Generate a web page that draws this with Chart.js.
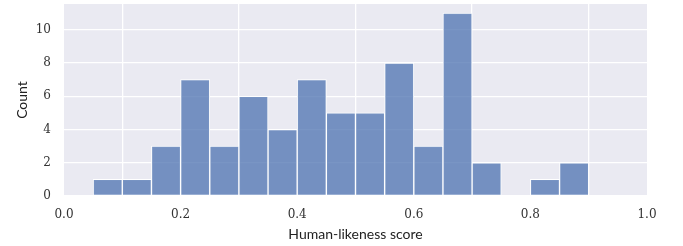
<!DOCTYPE html>
<html><head><meta charset="utf-8">
<script src="https://cdn.jsdelivr.net/npm/chart.js@4/dist/chart.umd.min.js"></script>
<style>html,body{margin:0;padding:0;background:#fff;}#wrap{width:683px;height:246px;}</style>
</head><body><div id="wrap"><canvas id="c" width="683" height="246"></canvas></div>
<script>
const binStarts = [0.00,0.05,0.10,0.15,0.20,0.25,0.30,0.35,0.40,0.45,0.50,0.55,0.60,0.65,0.70,0.75,0.80,0.85,0.90,0.95];
const counts    = [0,   1,   1,   3,   7,   3,   6,   4,   7,   5,   5,   8,   3,   11,  2,   0,   1,   2,   0,   0];
const binWidth = 0.05;
const xTicks = [0.0,0.2,0.4,0.6,0.8,1.0];
const yTicks = [0,2,4,6,8,10];

const pts = binStarts.map((s,i)=>({x: s + binWidth/2, y: counts[i]}));
const bgPlugin = {id:'bg', beforeDraw(ch){const a=ch.chartArea,c=ch.ctx;c.save();c.fillStyle='#EAEAF2';c.fillRect(a.left,a.top,a.right-a.left,a.bottom-a.top);c.restore();}};
function zeroPad(s){s.paddingTop=0;s.paddingBottom=0;s.paddingLeft=0;s.paddingRight=0;}
new Chart(document.getElementById('c'), {
  type:'bar',
  data:{datasets:[{data:pts, backgroundColor:'rgba(76,114,176,0.75)', borderColor:'#ffffff', borderWidth:1, borderSkipped:false, barPercentage:1, categoryPercentage:1, grouped:false}]},
  options:{
    responsive:false, animation:false,
    layout:{padding:{top:4,right:36,left:0,bottom:0}},
    plugins:{legend:{display:false}, tooltip:{enabled:false}},
    scales:{
      x:{type:'linear', min:0, max:1, offset:false,
        afterBuildTicks(s){s.ticks = xTicks.map(v=>({value:v}));},
        afterFit(s){s.height = 50; zeroPad(s);},
        grid:{color:'#ffffff', lineWidth:1.3, drawTicks:false}, border:{display:false},
        ticks:{padding:12, color:'#333', font:{family:'DejaVu Serif', size:12}, callback:v=>v.toFixed(1), maxRotation:0},
        title:{display:true, text:'Human-likeness score', color:'#222', font:{family:'Lato', size:14}, padding:{top:0,bottom:3}}
      },
      y:{min:0, max:11.55,
        afterBuildTicks(s){s.ticks = yTicks.map(v=>({value:v}));},
        afterFit(s){s.width = 64; zeroPad(s);},
        grid:{color:'#ffffff', lineWidth:1.3, drawTicks:false}, border:{display:false},
        ticks:{padding:13, color:'#333', font:{family:'DejaVu Serif', size:12}},
        title:{display:true, text:'Count', color:'#222', font:{family:'Lato', size:14}, padding:{top:14,bottom:0}}
      }
    }
  },
  plugins:[bgPlugin]
});
</script></body></html>
